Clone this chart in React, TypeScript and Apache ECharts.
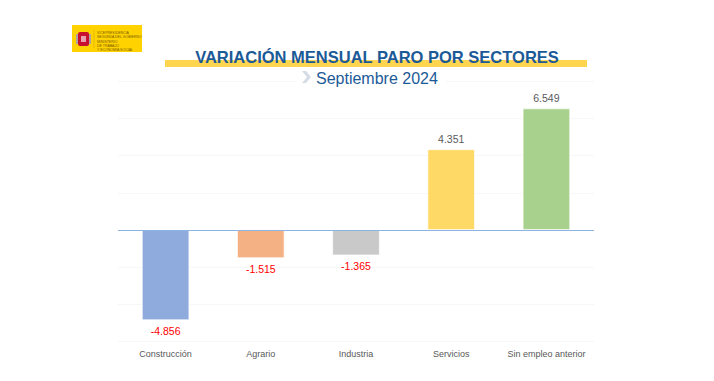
import React, { useEffect, useRef } from "react";
import * as echarts from "echarts";

const categories = ["Construcción", "Agrario", "Industria", "Servicios", "Sin empleo anterior"];
const values = [-4856, -1515, -1365, 4351, 6549];
const barColors = ["#8FAADC", "#F4B183", "#C9C9C9", "#FFD966", "#A9D18E"];
const titleText = "VARIACIÓN MENSUAL PARO POR SECTORES";
const subtitleText = "Septiembre 2024";

const fmt = (v: number) => {
  const s = Math.abs(v).toString().replace(/\B(?=(\d{3})+(?!\d))/g, ".");
  return (v < 0 ? "-" : "") + s;
};

export default function App() {
  const ref = useRef<HTMLDivElement>(null);
  useEffect(() => {
    if (!ref.current) return;
    const chart = echarts.init(ref.current, undefined, { renderer: "svg" });
    chart.setOption({
      animation: false,
      backgroundColor: "#ffffff",
      grid: { left: 118, right: 120, top: 81.4, bottom: 39.5 },
      xAxis: {
        type: "category",
        data: categories,
        axisLine: { show: false, onZero: false },
        axisTick: { show: false },
        axisLabel: { color: "#595959", fontSize: 9, fontFamily: "Liberation Sans", margin: 8, interval: 0 },
        splitLine: { show: false },
      },
      yAxis: {
        type: "value",
        min: -6000,
        max: 8000,
        interval: 2000,
        axisLabel: { show: false },
        axisLine: { show: false },
        axisTick: { show: false },
        splitLine: { lineStyle: { color: "#F7F7F7", width: 1 } },
      },
      series: [
        {
          type: "bar",
          barWidth: "50%",
          data: values.map((v, i) => ({
            value: v,
            itemStyle: { color: barColors[i], borderColor: "rgba(255,255,255,0.6)", borderWidth: 1 },
            label: {
              show: true,
              position: v < 0 ? "bottom" : "top",
              color: v < 0 ? "#FF0000" : "#595959",
              fontSize: 10.5,
              fontFamily: "Liberation Sans",
              formatter: () => fmt(v),
            },
          })),
          markLine: {
            silent: true,
            symbol: "none",
            label: { show: false },
            lineStyle: { color: "#8EB4E3", width: 1, type: "solid" },
            data: [{ yAxis: 0 }],
          },
        },
      ],
      graphic: [
        { type: "rect", shape: { x: 165, y: 60, width: 422, height: 7 }, style: { fill: "#FFD54F" }, z: 1 },
        {
          type: "text",
          x: 377,
          y: 57,
          z: 2,
          style: {
            text: titleText,
            fill: "#1C5A97",
            font: "bold 16.5px 'Liberation Sans'",
            align: "center",
            verticalAlign: "middle",
          },
        },
        { type: "rect", shape: { x: 296, y: 69, width: 150, height: 17 }, style: { fill: "#ffffff" }, z: 1 },
        {
          type: "polygon",
          z: 2,
          shape: { points: [[302, 71], [306, 71], [311, 77], [306, 83], [302, 83], [307, 77]] },
          style: { fill: "#D6DCE5" },
        },
        {
          type: "text",
          x: 316,
          y: 78,
          z: 2,
          style: {
            text: subtitleText,
            fill: "#1C5A97",
            font: "16px 'Liberation Sans'",
            align: "left",
            verticalAlign: "middle",
          },
        },
        { type: "rect", shape: { x: 72, y: 25, width: 70, height: 27 }, style: { fill: "#FFD200" } },
        { type: "rect", shape: { x: 78, y: 32, width: 11, height: 14, r: 2 }, style: { fill: "#C8102E" } },
        { type: "rect", shape: { x: 76, y: 34, width: 2, height: 10 }, style: { fill: "#B0A0A0" } },
        { type: "rect", shape: { x: 89, y: 34, width: 2, height: 10 }, style: { fill: "#B0A0A0" } },
        { type: "rect", shape: { x: 81, y: 36, width: 5, height: 6 }, style: { fill: "#E8A0B0" } },
        { type: "line", shape: { x1: 94, y1: 30, x2: 94, y2: 48 }, style: { stroke: "#C8A000", lineWidth: 0.5 } },
        {
          type: "text",
          x: 97,
          y: 31,
          style: {
            text: "VICEPRESIDENCIA\nSEGUNDA DEL GOBIERNO",
            fill: "#7a5a00",
            font: "3.5px 'Liberation Sans'",
            lineHeight: 4,
          },
        },
        {
          type: "text",
          x: 97,
          y: 40,
          style: {
            text: "MINISTERIO\nDE TRABAJO\nY ECONOMÍA SOCIAL",
            fill: "#7a5a00",
            font: "3.5px 'Liberation Sans'",
            lineHeight: 4,
          },
        },
      ],
    });
    return () => chart.dispose();
  }, []);
  return <div ref={ref} style={{ width: 714, height: 381, position: "absolute", left: 0, top: 0 }} />;
}
